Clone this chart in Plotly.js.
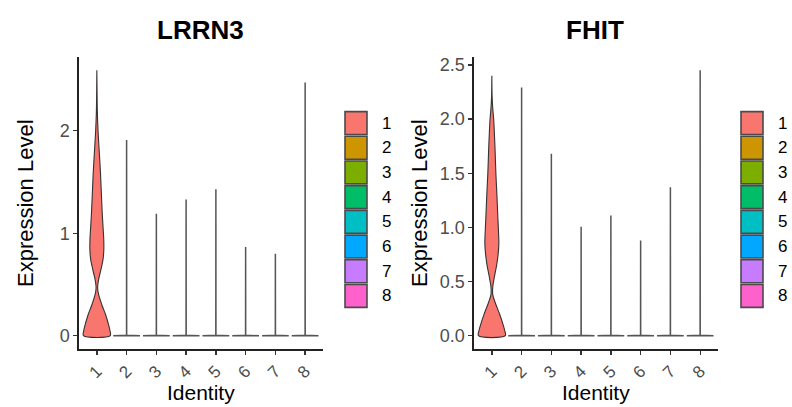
<!DOCTYPE html>
<html>
<head>
<meta charset="utf-8">
<script src="https://cdn.plot.ly/plotly-3.0.1.min.js"></script>
<style>html,body{margin:0;padding:0;background:#fff;}#chart{width:792px;height:407px;}</style>
</head>
<body>
<div id="chart"></div>
<script>
// ---- data ----
var categories = ['1', '2', '3', '4', '5', '6', '7', '8'];
var clusterColors = ['#F8766D', '#CD9600', '#7CAE00', '#00BE67', '#00BFC4', '#00A9FF', '#C77CFF', '#FF61CC'];
var panelTitles = ['LRRN3', 'FHIT'];

// maximum expression per identity (top of each violin)
var lrrn3Max = [2.59, 1.91, 1.19, 1.33, 1.43, 0.865, 0.80, 2.47];
var fhitMax  = [2.40, 2.29, 1.68, 1.006, 1.11, 0.88, 1.37, 2.45];

// density profile of identity 1 (expression level, half width as category fraction)
var lrrn3C1Level = [0, 0.05, 0.1, 0.2, 0.3, 0.4, 0.47, 0.55, 0.65, 0.75, 0.85, 0.95, 1.05, 1.2, 1.4, 1.6, 1.8, 2.0, 2.2, 2.4, 2.59];
var lrrn3C1Half  = [0.45, 0.44, 0.40, 0.30, 0.17, 0.06, 0.025, 0.06, 0.14, 0.21, 0.235, 0.23, 0.21, 0.18, 0.15, 0.12, 0.08, 0.04, 0.015, 0.006, 0];
var fhitC1Level  = [0, 0.05, 0.1, 0.2, 0.3, 0.38, 0.45, 0.55, 0.65, 0.75, 0.85, 0.95, 1.1, 1.3, 1.5, 1.7, 1.9, 2.0, 2.1, 2.2, 2.40];
var fhitC1Half   = [0.45, 0.43, 0.38, 0.26, 0.12, 0.03, 0.03, 0.09, 0.16, 0.21, 0.235, 0.225, 0.20, 0.17, 0.135, 0.11, 0.08, 0.06, 0.03, 0.01, 0];

// identities 2-8: almost all cells at zero
var zeroLevel = [0, 0.004];
var zeroHalf  = [0.45, 0.002];

var lrrn3Ticks = [0, 1, 2];
var fhitTicks  = [0, 0.5, 1.0, 1.5, 2.0, 2.5];

// ---- build ----
function violinTrace(pos, levels, halves, color, xa, ya, smooth) {
  var xs = [], ys = [];
  for (var j = levels.length - 1; j >= 0; j--) { xs.push(pos + halves[j]); ys.push(levels[j]); }
  for (var i = 0; i < levels.length; i++) { xs.push(pos - halves[i]); ys.push(levels[i]); }
  xs.push(xs[0]); ys.push(ys[0]);
  return {
    type: 'scatter', mode: 'lines', x: xs, y: ys, fill: 'toself',
    fillcolor: color,
    line: smooth ? {color: '#333', width: 1.1, shape: 'spline', smoothing: 0.9} : {color: '#555', width: 1.5},
    xaxis: xa, yaxis: ya, hoverinfo: 'skip', showlegend: false
  };
}

var traces = [];
var panels = [
  {max: lrrn3Max, lev: lrrn3C1Level, half: lrrn3C1Half, xa: 'x', ya: 'y'},
  {max: fhitMax, lev: fhitC1Level, half: fhitC1Half, xa: 'x2', ya: 'y2'}
];
panels.forEach(function (p) {
  for (var k = 0; k < categories.length; k++) {
    var lev, half;
    if (k === 0) { lev = p.lev; half = p.half; }
    else { lev = zeroLevel.concat([p.max[k]]); half = zeroHalf.concat([0]); }
    traces.push(violinTrace(k + 1, lev, half, clusterColors[k], p.xa, p.ya, k === 0));
  }
});

var W = 792, H = 407;
function px(x) { return x / W; }
function py(y) { return 1 - y / H; }

var fontFam = 'Liberation Sans, Arial, Helvetica, sans-serif';
var catPos = categories.map(function (c, i) { return i + 1; });

function xAxis(domain, anchor) {
  return {
    domain: domain, anchor: anchor, range: [0.4, 8.6],
    tickmode: 'array', tickvals: catPos, ticktext: categories, tickangle: -45,
    showline: true, linecolor: '#222', linewidth: 1.6,
    ticks: 'outside', ticklen: 4, tickwidth: 1.3, tickcolor: '#333',
    showgrid: false, zeroline: false,
    tickfont: {family: fontFam, size: 17, color: '#4D4D4D'}, fixedrange: true
  };
}
function yAxis(domain, anchor, range, tv, fmt) {
  return {
    domain: domain, anchor: anchor, range: range,
    tickmode: 'array', tickvals: tv, tickformat: fmt,
    showline: true, linecolor: '#222', linewidth: 1.6,
    ticks: 'outside', ticklen: 4, tickwidth: 1.3, tickcolor: '#333',
    showgrid: false, zeroline: false,
    tickfont: {family: fontFam, size: 18, color: '#4D4D4D'}, fixedrange: true
  };
}

var yDom = [py(349), py(57)];
var annotations = [];
var shapes = [];
var panelGeo = [
  {x0: 79, x1: 323, yTitleX: 25, legX: 345, labX: 380},
  {x0: 474, x1: 718, yTitleX: 419, legX: 741, labX: 776}
];
panelGeo.forEach(function (g, pi) {
  var cx = (g.x0 + g.x1) / 2;
  annotations.push({text: '<b>' + panelTitles[pi] + '</b>', x: px(cx - 1), y: py(30.5), xref: 'paper', yref: 'paper',
    showarrow: false, xanchor: 'center', yanchor: 'middle', font: {family: fontFam, size: 26, color: '#000'}});
  annotations.push({text: 'Identity', x: px(cx), y: py(392), xref: 'paper', yref: 'paper',
    showarrow: false, xanchor: 'center', yanchor: 'middle', font: {family: fontFam, size: 21, color: '#000'}});
  annotations.push({text: 'Expression Level', x: px(g.yTitleX), y: py(203), xref: 'paper', yref: 'paper',
    showarrow: false, xanchor: 'center', yanchor: 'middle', textangle: -90, font: {family: fontFam, size: 22, color: '#000'}});
  var pitch = 24.7, top = 110.7;
  for (var k = 0; k < categories.length; k++) {
    var y0 = top + k * pitch;
    shapes.push({type: 'rect', xref: 'paper', yref: 'paper',
      x0: px(g.legX), x1: px(g.legX + 22), y0: py(y0 + 0.9), y1: py(y0 + pitch - 0.9),
      fillcolor: clusterColors[k], line: {color: '#4a4a4a', width: 1.6}});
    annotations.push({text: categories[k], x: px(g.labX), y: py(y0 + pitch / 2), xref: 'paper', yref: 'paper',
      showarrow: false, xanchor: 'left', yanchor: 'middle', font: {family: fontFam, size: 17, color: '#000'}});
  }
});

var layout = {
  width: W, height: H, margin: {l: 0, r: 0, t: 0, b: 0},
  paper_bgcolor: '#fff', plot_bgcolor: '#fff', showlegend: false,
  xaxis: xAxis([px(79), px(323)], 'y'),
  yaxis: yAxis(yDom, 'x', [-0.1295, 2.7195], lrrn3Ticks, 'd'),
  xaxis2: xAxis([px(474), px(718)], 'y2'),
  yaxis2: yAxis(yDom, 'x2', [-0.1225, 2.5725], fhitTicks, '.1f'),
  annotations: annotations, shapes: shapes,
  font: {family: fontFam}
};

Plotly.newPlot('chart', traces, layout, {displayModeBar: false, staticPlot: true});
</script>
</body>
</html>
